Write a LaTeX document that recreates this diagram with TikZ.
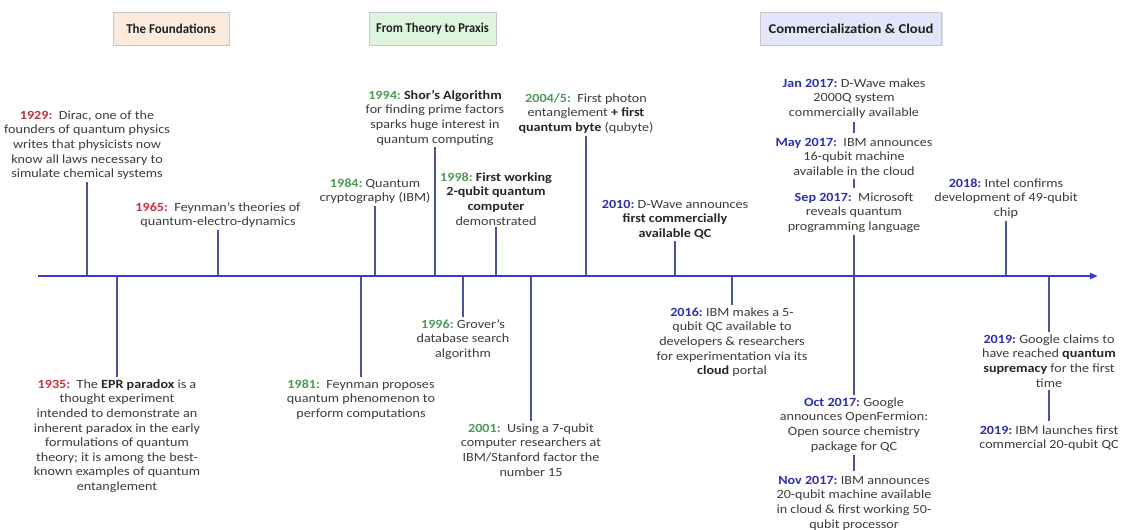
\documentclass[tikz,border=0pt]{standalone}
\usepackage{fontspec}
\setmainfont{Carlito}[FakeStretch=1.13]
\newfontfamily\hdrfont{Carlito}
\usetikzlibrary{arrows.meta,shadows}
\definecolor{txtgray}{HTML}{3C3C3C}
\definecolor{yred}{HTML}{C8303A}
\definecolor{ygreen}{HTML}{4A9A5A}
\definecolor{yblue}{HTML}{2E2EB0}
\definecolor{axisblue}{HTML}{3838D6}
\definecolor{tickcol}{HTML}{4A5498}
\definecolor{hpeach}{HTML}{FCEBDD}
\definecolor{hgreen}{HTML}{DDF5DD}
\definecolor{hlav}{HTML}{E4E4FA}
\newcommand{\yrR}[1]{\textcolor{yred}{\textbf{#1:}}}
\newcommand{\yrG}[1]{\textcolor{ygreen}{\textbf{#1:}}}
\newcommand{\yrB}[1]{\textcolor{yblue}{\textbf{#1:}}}
\newcommand{\bk}[1]{\textbf{\textcolor{black!85}{#1}}}
\newcommand{\fl}{\rule{0pt}{10pt}}
\tikzset{
  txt/.style={align=center, inner sep=0pt, anchor=north, text=txtgray,
    font=\fontsize{12.5}{14.6}\selectfont},
  tick/.style={draw=tickcol, line width=1.2pt},
  axisline/.style={draw=axisblue, line width=2pt, -{Triangle[length=8pt,width=6pt]}},
  header/.style={draw=black!22, line width=0.6pt, minimum height=33pt, inner sep=0pt,
    font=\hdrfont\fontsize{13.5}{15}\selectfont\bfseries, text=black!88,
    drop shadow={opacity=0.25, shadow xshift=1pt, shadow yshift=-1pt}},
}
\begin{document}
\begin{tikzpicture}[x=1pt,y=-1pt]
\useasboundingbox (0,0) rectangle (1122,530);
% headers
\node[header, fill=hpeach, minimum width=116pt] (h1) at (171,28.5) {\scalebox{0.96}[1]{The Foundations}};
\node[header, fill=hgreen, minimum width=127pt] (h2) at (432.5,28.5) {\scalebox{0.92}[1]{From Theory to Praxis}};
\node[header, fill=hlav, minimum width=181pt] (h3) at (851,28.5) {\scalebox{1.085}[1]{Commercialization \& Cloud}};
% axis
\coordinate (axL) at (38,276);
\coordinate (axR) at (1098,276);
% above-axis events
\node[txt] (t1929) at (87,109) {\fl\yrR{1929}\ \ Dirac, one of the\\founders of quantum physics\\writes that physicists now\\know all laws necessary to\\simulate chemical systems};
\node[txt] (t1965) at (218,201) {\fl\yrR{1965}\ \ Feynman's theories of\\quantum-electro-dynamics};
\node[txt] (t1984) at (375,177) {\fl\yrG{1984}\ Quantum\\cryptography (IBM)};
\node[txt] (t1994) at (435,89) {\fl\yrG{1994}\ \bk{Shor's Algorithm}\\for finding prime factors\\sparks huge interest in\\quantum computing};
\node[txt] (t1998) at (496,171) {\fl\yrG{1998}\ \bk{First working}\\\bk{2-qubit quantum}\\\bk{computer}\\demonstrated};
\node[txt] (t2004) at (586,92) {\fl\yrG{2004/5}\ \ First photon\\entanglement \bk{+ first}\\\bk{quantum byte} (qubyte)};
\node[txt] (t2010) at (675,198) {\fl\yrB{2010}\ D-Wave announces\\\bk{first commercially}\\\bk{available QC}};
\node[txt] (tjan) at (854,77) {\fl\yrB{Jan 2017}\ D-Wave makes\\2000Q system\\commercially available};
\node[txt] (tmay) at (854,136) {\fl\yrB{May 2017}\ \ IBM announces\\16-qubit machine\\available in the cloud};
\node[txt] (tsep) at (854,191) {\fl\yrB{Sep 2017}\ \ Microsoft\\reveals quantum\\programming language};
\node[txt] (t2018) at (1006,177) {\fl\yrB{2018}\ Intel confirms\\development of 49-qubit\\chip};
% below-axis events
\node[txt] (t1935) at (117,378) {\fl\yrR{1935}\ \ The \bk{EPR paradox} is a\\thought experiment\\intended to demonstrate an\\inherent paradox in the early\\formulations of quantum\\theory; it is among the best-\\known examples of quantum\\entanglement};
\node[txt] (t1981) at (361,378) {\fl\yrG{1981}\ \ Feynman proposes\\quantum phenomenon to\\perform computations};
\node[txt] (t1996) at (463,318) {\fl\yrG{1996}\ Grover's\\database search\\algorithm};
\node[txt] (t2001) at (531,422) {\fl\yrG{2001}\ \ Using a 7-qubit\\computer researchers at\\IBM/Stanford factor the\\number 15};
\node[txt] (t2016) at (732,306) {\fl\yrB{2016}\ IBM makes a 5-\\qubit QC available to\\developers \& researchers\\for experimentation via its\\\bk{cloud} portal};
\node[txt] (toct) at (854,396) {\fl\yrB{Oct 2017}\ Google\\announces OpenFermion:\\Open source chemistry\\package for QC};
\node[txt] (tnov) at (854,474) {\fl\yrB{Nov 2017}\ IBM announces\\20-qubit machine available\\in cloud \& first working 50-\\qubit processor};
\node[txt] (tg19) at (1049,333) {\fl\yrB{2019}\ Google claims to\\have reached \bk{quantum}\\\bk{supremacy} for the first\\time};
\node[txt] (ti19) at (1049,424) {\fl\yrB{2019}\ IBM launches first\\commercial 20-qubit QC};
% connectors above
\foreach \n in {t1929,t1965,t1984,t1994,t1998,t2004,t2010,t2018}
  \draw[tick, shorten <=2pt] (\n.south) -- (\n.south |- axL);
% connectors below
\foreach \n in {t1935,t1981,t1996,t2001,t2016,tg19}
  \draw[tick, shorten >=1pt] (\n.north |- axL) -- (\n.north);
% stacked chains
\draw[tick, shorten <=3pt, shorten >=3pt] (tjan.south) -- (tmay.north);
\draw[tick, shorten <=3pt, shorten >=3pt] (tmay.south) -- (tsep.north);
\draw[tick, shorten <=2pt, shorten >=1pt] (tsep.south) -- (toct.north);
\draw[tick, shorten <=3pt, shorten >=3pt] (toct.south) -- (tnov.north);
\draw[tick, shorten <=3pt, shorten >=3pt] (tg19.south) -- (ti19.north);
% axis
\draw[axisline] (axL) -- (axR);
\end{tikzpicture}
\end{document}
